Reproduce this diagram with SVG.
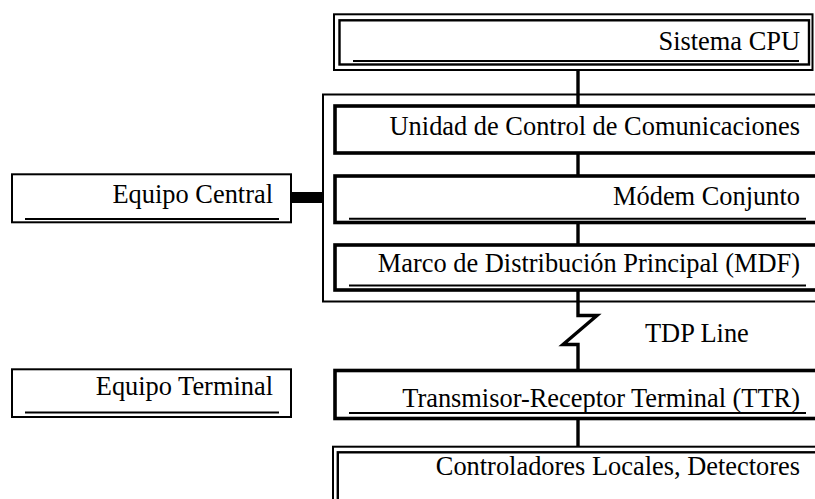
<svg xmlns="http://www.w3.org/2000/svg" width="815" height="499" viewBox="0 0 815 499">
  <style>
    .lbl { font-family: "Liberation Serif", "Times New Roman", serif; font-size: 26.4px; fill: #000; text-anchor: end; }
    .free { text-anchor: start; }
    .thin { fill: none; stroke: #000; stroke-width: 2; }
    .thick { fill: #fff; stroke: #000; stroke-width: 3.6; }
    .dbl-out { fill: #fff; stroke: #000; stroke-width: 2; }
    .dbl-in { fill: none; stroke: #000; stroke-width: 2.4; }
    .uline { stroke: #000; stroke-width: 2; }
    .wire { fill: none; stroke: #000; stroke-width: 3.4; stroke-linejoin: miter; }
  </style>
  <rect width="815" height="499" fill="#fff"/>

  <!-- central equipment enclosure -->
  <g id="central-frame">
    <rect class="thin" x="323" y="94.5" width="520" height="207" stroke-width="1.6"/>
  </g>

  <!-- connectors -->
  <g id="connectors">
    <line class="wire" x1="578" y1="70" x2="578" y2="106"/>
    <line class="wire" x1="578" y1="153" x2="578" y2="176"/>
    <line class="wire" x1="578" y1="222" x2="578" y2="245"/>
    <path class="wire" d="M578 290 V315.5 H597 L563 344.5 H578 V370"/>
    <line class="wire" x1="578" y1="418" x2="578" y2="452"/>
    <rect x="292" y="192" width="31" height="11" fill="#000"/>
  </g>

  <g id="sistema-cpu">
    <rect class="dbl-out" x="334" y="14.3" width="478.5" height="55.7"/>
    <rect class="dbl-in" x="339.5" y="20.3" width="469.5" height="44.2"/>
    <line class="uline" x1="353" y1="61" x2="799" y2="61"/>
    <text class="lbl" x="800" y="50">Sistema CPU</text>
  </g>

  <g id="ucc">
    <rect class="thick" x="335" y="106" width="500" height="47"/>
    <text class="lbl" x="800" y="135">Unidad de Control de Comunicaciones</text>
  </g>

  <g id="modem">
    <rect class="thick" x="335" y="176" width="500" height="46.5"/>
    <line class="uline" x1="349" y1="218.8" x2="806" y2="218.8"/>
    <text class="lbl" x="800" y="205">Módem Conjunto</text>
  </g>

  <g id="mdf">
    <rect class="thick" x="335" y="245" width="500" height="45"/>
    <line class="uline" x1="349" y1="285.5" x2="806" y2="285.5"/>
    <text class="lbl" x="800" y="272">Marco de Distribución Principal (MDF)</text>
  </g>

  <g id="tdp-line">
    <text class="lbl free" x="645" y="342">TDP Line</text>
  </g>

  <g id="ttr">
    <rect class="thick" x="335" y="370.5" width="500" height="48"/>
    <line class="uline" x1="349" y1="413" x2="806" y2="413"/>
    <text class="lbl" x="800" y="407">Transmisor-Receptor Terminal (TTR)</text>
  </g>

  <g id="controladores">
    <rect class="dbl-out" x="333" y="446.7" width="500" height="80"/>
    <rect class="dbl-in" x="337.8" y="452.3" width="500" height="80"/>
    <text class="lbl" x="800" y="475">Controladores Locales, Detectores</text>
  </g>

  <g id="equipo-central">
    <rect class="thin" x="12" y="174.3" width="279" height="48"/>
    <line class="uline" x1="25" y1="219" x2="279" y2="219"/>
    <text class="lbl" x="273" y="203">Equipo Central</text>
  </g>

  <g id="equipo-terminal">
    <rect class="thin" x="12" y="369.3" width="279" height="47.7"/>
    <line class="uline" x1="25" y1="412.5" x2="279" y2="412.5"/>
    <text class="lbl" x="273" y="395">Equipo Terminal</text>
  </g>
</svg>
